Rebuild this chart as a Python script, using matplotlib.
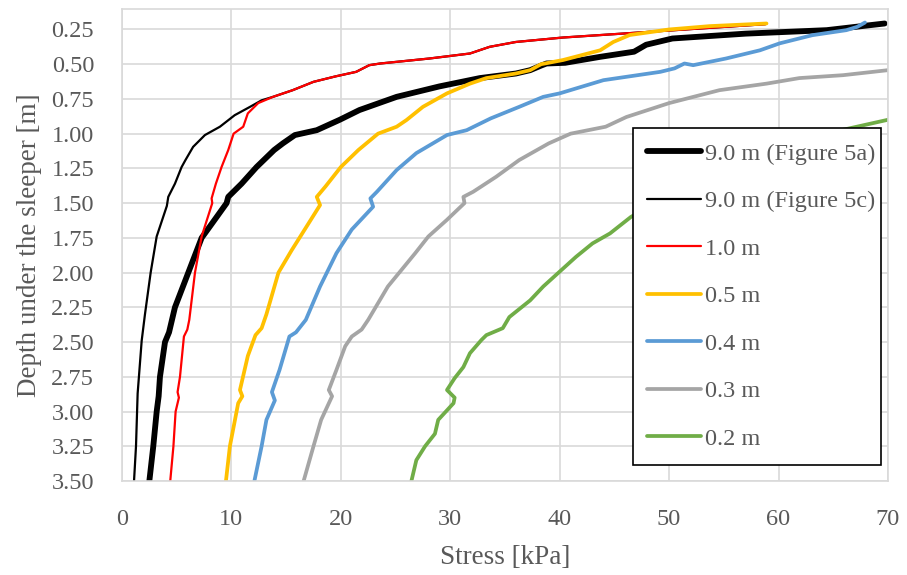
import matplotlib
matplotlib.use("Agg")
import matplotlib.pyplot as plt
from matplotlib.ticker import FormatStrFormatter

# stress [kPa] vs depth [m] (deep -> shallow)
fig5a_stress = [2.5, 2.86, 3.17, 3.35, 3.47, 3.93, 4.3, 4.84, 6.06, 7.28, 8.65, 9.56, 9.71, 10.93,
                12.3, 13.9, 14.7, 15.8, 17.8, 19.9, 21.7, 25.1, 29.0, 32.7, 36.0, 37.3, 38.3, 38.8,
                40.5, 43.7, 46.8, 47.9, 50.3, 57.0, 64.4, 69.7]
fig5a_depth = [3.50, 3.25, 3.00, 2.89, 2.75, 2.50, 2.43, 2.25, 2.00, 1.75, 1.60, 1.50, 1.455, 1.36,
               1.24, 1.118, 1.07, 1.01, 0.975, 0.90, 0.83, 0.735, 0.66, 0.60, 0.567, 0.543, 0.51, 0.495,
               0.49, 0.447, 0.41, 0.36, 0.315, 0.28, 0.255, 0.207]

fig5c_stress = [1.1, 1.28, 1.43, 1.8, 2.1, 2.62, 3.17, 4.1, 4.23, 4.84, 5.45, 5.8, 6.5, 7.58, 8.95,
                10.3, 11.7, 12.76, 13.8, 15.6, 17.5, 19.5, 21.4, 22.6, 23.6, 28.1, 31.8, 33.6, 36.0,
                40.3, 48.2, 58.8]
fig5c_depth = [3.50, 3.25, 2.87, 2.49, 2.30, 2.00, 1.74, 1.52, 1.455, 1.36, 1.24, 1.19, 1.095, 1.01, 0.95,
               0.867, 0.807, 0.76, 0.735, 0.687, 0.627, 0.588, 0.555, 0.507, 0.495, 0.459, 0.423, 0.375, 0.34,
               0.308, 0.267, 0.212]

m10_stress = [4.41, 4.7, 4.9, 5.2, 5.08, 5.3, 5.66, 5.97, 6.15, 6.67, 7.28, 8.25, 8.19, 8.58, 9.1, 9.71,
              10.2, 11.08, 11.5, 12.45, 13.8, 15.6, 17.5, 19.5, 21.4, 22.6, 23.6, 28.1, 31.8, 33.6, 36.0,
              40.3, 48.2, 58.8]
m10_depth = [3.50, 3.25, 3.00, 2.90, 2.86, 2.75, 2.46, 2.41, 2.34, 2.00, 1.74, 1.50, 1.466, 1.36, 1.24, 1.118,
             1.00, 0.95, 0.854, 0.78, 0.735, 0.687, 0.627, 0.588, 0.555, 0.507, 0.495, 0.459, 0.423, 0.375, 0.34,
             0.308, 0.267, 0.212]

m05_stress = [9.5, 9.86, 10.62, 11.0, 10.78, 11.5, 12.2, 12.76, 13.2, 14.3, 15.5, 16.3, 18.1, 17.8, 18.6,
              20.0, 21.6, 23.4, 25.1, 26.0, 27.5, 29.7, 31.8, 33.3, 36.0, 37.3, 38.3, 40.3, 43.7, 44.9,
              46.4, 50.0, 53.7, 58.9]
m05_depth = [3.50, 3.25, 2.94, 2.89, 2.845, 2.60, 2.45, 2.40, 2.30, 2.00, 1.84, 1.74, 1.514, 1.455, 1.38,
             1.24, 1.118, 1.00, 0.95, 0.902, 0.807, 0.71, 0.64, 0.60, 0.567, 0.543, 0.50, 0.47, 0.40, 0.34,
             0.29, 0.25, 0.226, 0.207]

m04_stress = [12.1, 12.76, 13.2, 13.97, 13.7, 14.4, 15.3, 15.9, 16.8, 18.1, 19.6, 21.0, 22.95, 22.7, 23.3,
              25.1, 26.9, 29.7, 31.5, 33.7, 36.3, 38.5, 40.0, 44.0, 49.2, 50.5, 51.4, 52.2, 55.2, 58.3,
              60.1, 63.1, 66.2, 67.2, 67.9]
m04_depth = [3.50, 3.25, 3.06, 2.92, 2.86, 2.70, 2.46, 2.43, 2.34, 2.10, 1.86, 1.69, 1.526, 1.466, 1.418,
             1.262, 1.14, 1.01, 0.975, 0.89, 0.807, 0.735, 0.71, 0.615, 0.555, 0.53, 0.495, 0.507, 0.459, 0.40,
             0.35, 0.291, 0.255, 0.231, 0.20]

m03_stress = [16.6, 17.5, 18.2, 19.2, 18.9, 19.6, 20.4, 21.0, 21.9, 22.5, 24.3, 26.8, 28.0, 29.7, 31.3,
              31.2, 32.1, 34.2, 36.3, 39.0, 41.0, 44.2, 46.1, 50.0, 54.6, 58.9, 61.9, 65.9, 70.0]
m03_depth = [3.50, 3.25, 3.06, 2.89, 2.845, 2.70, 2.53, 2.46, 2.41, 2.34, 2.10, 1.86, 1.74, 1.62, 1.50,
             1.455, 1.418, 1.31, 1.19, 1.07, 1.00, 0.95, 0.88, 0.78, 0.687, 0.64, 0.60, 0.579, 0.543]

m02_stress = [26.45, 26.9, 27.7, 28.6, 28.9, 30.3, 30.4, 29.7, 30.4, 31.2, 31.8, 32.85, 33.3, 34.8, 35.4,
              37.3, 38.5, 39.9, 41.5, 43.0, 44.6, 46.5, 52.0, 58.0, 62.0, 66.3, 70.0]
m02_depth = [3.50, 3.35, 3.25, 3.16, 3.06, 2.94, 2.90, 2.845, 2.76, 2.68, 2.58, 2.485, 2.45, 2.40, 2.32,
             2.20, 2.10, 2.00, 1.886, 1.79, 1.718, 1.60, 1.35, 1.15, 1.04, 0.965, 0.90]

labels = ["9.0 m (Figure 5a)", "9.0 m (Figure 5c)", "1.0 m", "0.5 m", "0.4 m", "0.3 m", "0.2 m"]
y_ticks = [0.25, 0.50, 0.75, 1.00, 1.25, 1.50, 1.75, 2.00, 2.25, 2.50, 2.75, 3.00, 3.25, 3.50]

txt = "#595959"
plt.rcParams["font.family"] = ["Liberation Serif", "DejaVu Serif"]

fig = plt.figure(figsize=(9.07, 5.75), dpi=100)
ax = fig.add_axes([0.1345, 0.1635, 0.8445, 0.8215])

series = [
    (fig5a_stress, fig5a_depth, "black", 4.2),
    (fig5c_stress, fig5c_depth, "black", 1.6),
    (m10_stress, m10_depth, "#FF0000", 1.6),
    (m05_stress, m05_depth, "#FFC000", 2.7),
    (m04_stress, m04_depth, "#5B9BD5", 2.7),
    (m03_stress, m03_depth, "#A5A5A5", 2.7),
    (m02_stress, m02_depth, "#70AD47", 2.7),
]
for (xs, ys, c, lw), lab in zip(series, labels):
    ax.plot(xs, ys, color=c, lw=lw, label=lab, solid_capstyle="round", solid_joinstyle="round")

ax.set_xlim(0, 70)
ax.set_ylim(3.5, 0.1)
ax.set_xticks(range(0, 71, 10))
ax.set_yticks(y_ticks)
ax.yaxis.set_major_formatter(FormatStrFormatter("%.2f"))
ax.grid(True, color="#D9D9D9", lw=1.2)
ax.set_axisbelow(True)
for s in ax.spines.values():
    s.set_color("#D9D9D9")
    s.set_linewidth(1.2)
ax.tick_params(axis="both", length=0, labelsize=17.5, colors=txt)
ax.tick_params(axis="y", pad=20)
ax.tick_params(axis="x", pad=20)

ax.set_xlabel("Stress [kPa]", fontsize=19.5, color=txt, labelpad=11)
ax.set_ylabel("Depth under the sleeper [m]", fontsize=19.5, color=txt, labelpad=7)

leg = ax.legend(loc="upper left", bbox_to_anchor=(0.667, 0.036, 0.324, 0.711), mode="expand",
                fontsize=17.5, frameon=True, fancybox=False, framealpha=1, edgecolor="black",
                handlelength=2.2, handletextpad=0.15, labelspacing=1.05, borderpad=0.6,
                borderaxespad=0)
leg.get_frame().set_linewidth(1.2)
for t in leg.get_texts():
    t.set_color(txt)

fig.savefig("out.png", dpi=100)
